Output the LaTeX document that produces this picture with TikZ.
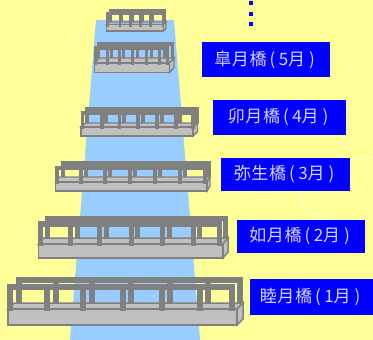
\documentclass[tikz,border=0pt]{standalone}
\usepackage{fontspec}
\newfontfamily\cjk{Noto Sans CJK JP}
\definecolor{bg}{RGB}{255,255,153}
\definecolor{river}{RGB}{153,204,255}
\definecolor{rail}{RGB}{128,128,128}
\definecolor{deck}{RGB}{192,192,192}
\definecolor{lab}{RGB}{0,0,255}
\definecolor{labtext}{RGB}{215,215,255}
\definecolor{arcline}{RGB}{255,255,225}
\tikzset{
  x=1pt,y=-1pt,
  labelbox/.style={fill=lab,text=labtext,inner sep=0pt,font=\cjk\fontsize{17}{19}\selectfont,anchor=center},
  dotmark/.style={fill=lab,minimum size=4pt,inner sep=0pt},
  railpart/.style={fill=rail,draw=none},
  faintarc/.style={draw=arcline,line width=0.8pt},
}
\newcommand{\lbltext}[4]{#1\kern0.6pt#2\kern0.6pt#3\kern3.5pt\makebox[5pt]{(}\kern4.5pt\makebox[8pt]{#4}\kern0.5pt月\kern4.5pt\makebox[5pt]{)}\kern3pt}
\def\bandgap{0}
% #1 L #2 R #3 Rb(back right) #4 deck top back y #5 deck front top y #6 deck bottom y
% #7 front rail top #8 front rail bottom #9 back rail left
\newcommand{\bridgeA}[9]{%
  \def\bL{#1}\def\bR{#2}\def\bRb{#3}\def\bYb{#4}\def\bYf{#5}\def\bYd{#6}\def\fT{#7}\def\fB{#8}\def\bkL{#9}%
  \bridgeB}
% #1 front rail right #2 back rail top #3 post width #4 deck line width #5 front post list
% #6 back post list
\newcommand{\bridgeB}[6]{%
  \foreach \p in {#6}{\fill[railpart] (\p,#2) rectangle ++(#3,\bYb-#2+1);}
  \fill[railpart] (\bkL,#2) rectangle (\bRb,\fT-\bandgap);
  \fill[deck,draw=rail,line width=#4] (\bL,\bYf) -- (\bR,\bYf) -- (\bRb,\bYb) -- (\bL+\bRb-\bR,\bYb) -- cycle;
  \fill[deck,draw=rail,line width=#4] (\bR,\bYf) -- (\bRb,\bYb) -- (\bRb,\bYd-\bYf+\bYb) -- (\bR,\bYd) -- cycle;
  \fill[deck,draw=rail,line width=#4] (\bL,\bYf) rectangle (\bR,\bYd);
  \foreach \p in {#5}{\fill[railpart] (\p,\fT) rectangle ++(#3,\bYf-\fT+2);}
  \fill[railpart] (\bL-0.5,\fT) rectangle (#1,\fB);
}
\begin{document}
\begin{tikzpicture}
\useasboundingbox (0,0) rectangle (373,340);
\fill[bg] (0,0) rectangle (373,340);
\fill[river] (96,20) -- (174,20) -- (200,340) -- (70,340) -- cycle;
\draw[faintarc] (373,157.5) .. controls (345,160) and (299,170) .. (299,192) .. controls (299,206) and (312,214) .. (328,222);
% bridge 6 (top)
\bridgeA{106.5}{163.5}{166}{22}{24.5}{31}{12}{15}{109}{164}{9}{2.6}{1.4}{106,118.5,129,139,149,161.5}{109,120.5,131,141,151,163.5}
% bridge 5
\bridgeA{94.5}{169.5}{174}{58}{63}{72.5}{46}{50}{97}{168}{42}{3.2}{1.4}{93.5,106,118,131,145,158,166}{97,109.5,122,136,150,163,170.5}
% bridge 4
\bridgeA{81}{193}{197.5}{123}{127}{136}{111}{115}{85}{193}{107}{3.6}{1.4}{80.5,100,117.5,136,155,174,191}{85,104,122,141,160,178,195}
% bridge 3
\bridgeA{55.5}{207}{210}{177}{182}{191}{166}{170}{61}{205}{161}{4.2}{1.4}{55,78.5,103,128,153,178,203}{61,84,108,133,158,183,207}
% bridge 2
\bridgeA{38.5}{223}{228}{238}{244}{258}{221}{227}{45}{222}{216}{5}{1.5}{38.3,68,97.3,128.7,160,191,217}{45,75,104,135.3,167,196.7,223.3}
% bridge 1
\def\bandgap{1.5}
\bridgeA{8}{237}{243}{303}{309}{325}{284}{290}{16}{235}{277}{6}{1.5}{7.3,44,80,120,159.3,196.7,229.3}{16,53,88.7,128,167.3,204.7,236.7}
% dots
\node[dotmark] (d1) at (251,3) {};
\node[dotmark] (d2) at (251,13.5) {};
\node[dotmark] (d3) at (251,24) {};
% labels
\node[labelbox,minimum width=128pt,minimum height=35pt] (l5) at (266,59.5) {\lbltext{皐}{月}{橋}{5}};
\node[labelbox,minimum width=133pt,minimum height=35pt] (l4) at (279.5,117.5) {\lbltext{卯}{月}{橋}{4}};
\node[labelbox,minimum width=129pt,minimum height=33pt] (l3) at (285.5,174.5) {\lbltext{弥}{生}{橋}{3}};
\node[labelbox,minimum width=128pt,minimum height=33pt] (l2) at (301,236.5) {\lbltext{如}{月}{橋}{2}};
\node[labelbox,minimum width=123pt,minimum height=36pt] (l1) at (311.5,297) {\lbltext{睦}{月}{橋}{1}};
\end{tikzpicture}
\end{document}
